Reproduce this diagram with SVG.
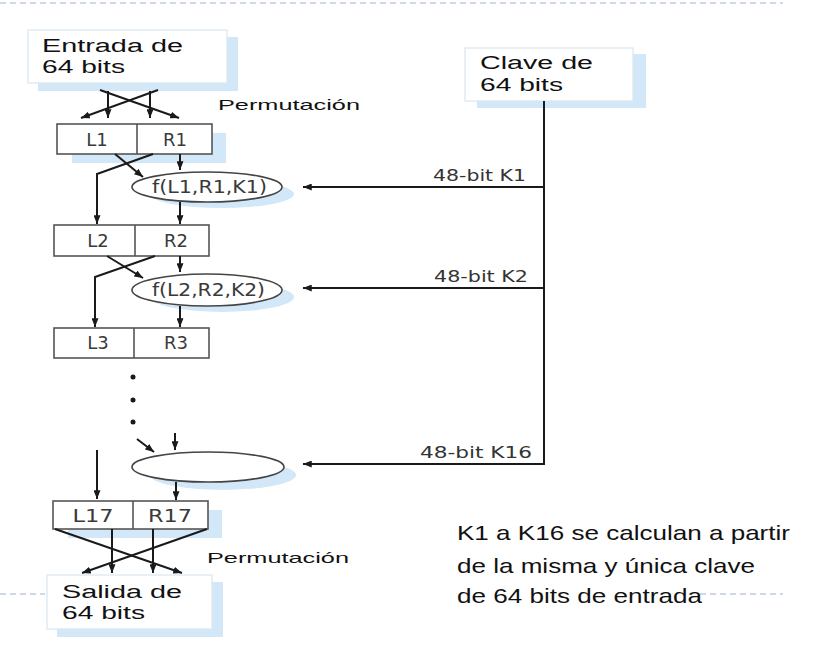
<svg xmlns="http://www.w3.org/2000/svg" width="816" height="648" viewBox="0 0 816 648">
<defs>
<marker id="ah" viewBox="0 0 10 8" refX="10" refY="4" markerWidth="9" markerHeight="7" markerUnits="userSpaceOnUse" orient="auto">
<path d="M0,0 L10,4 L0,8 z" fill="#1a1a1a"/>
</marker>
<style>
.bg{fill:#ffffff}
.sh{fill:#d2e8f8;stroke:none}
.io{fill:#ffffff;stroke:#dbe6ee;stroke-width:1.2}
.cell{fill:#ffffff;stroke:#555555;stroke-width:1.6}
.fn{fill:#ffffff;stroke:#444444;stroke-width:1.6}
.ln{fill:none;stroke:#1a1a1a;stroke-width:2}
.ar{fill:none;stroke:#1a1a1a;stroke-width:2;marker-end:url(#ah)}
.dash{fill:none;stroke:#9fb3cc;stroke-width:1;stroke-dasharray:6 4}
.big{font-family:"Liberation Sans",Arial,sans-serif;font-size:18px;fill:#111111}
.perm{font-family:"Liberation Sans",Arial,sans-serif;font-size:15px;fill:#111111}
.cl{font-family:"DejaVu Sans","Liberation Sans",sans-serif;font-size:18px;fill:#3a3a3a;text-anchor:middle}
.fl{font-family:"DejaVu Sans","Liberation Sans",sans-serif;font-size:17px;fill:#3a3a3a}
.kl{font-family:"DejaVu Sans","Liberation Sans",sans-serif;font-size:16px;fill:#333333}
.note{font-family:"Liberation Sans",Arial,sans-serif;font-size:21px;fill:#111111}
.dot{fill:#1a1a1a}
</style>
</defs>
<rect class="bg" x="0" y="0" width="816" height="648"/>
<line class="dash" x1="0" y1="3" x2="783" y2="3"/>
<line class="dash" x1="0" y1="594" x2="45" y2="594"/>
<line class="dash" x1="700" y1="594" x2="783" y2="594"/>

<g id="entrada">
<rect class="sh" x="38" y="37" width="200" height="54"/>
<rect class="io" x="28" y="30" width="199" height="53"/>
<text class="big" x="42" y="52" textLength="141" lengthAdjust="spacingAndGlyphs">Entrada de</text>
<text class="big" x="42" y="73" textLength="83" lengthAdjust="spacingAndGlyphs">64 bits</text>
</g>

<g id="perm-top">
<text class="perm" x="218" y="110" textLength="142" lengthAdjust="spacingAndGlyphs">Permutación</text>
</g>

<g id="clave">
<rect class="sh" x="477" y="54" width="169" height="54"/>
<rect class="io" x="465" y="48" width="168" height="53"/>
<text class="big" x="480" y="69" textLength="113" lengthAdjust="spacingAndGlyphs">Clave de</text>
<text class="big" x="480" y="91" textLength="83" lengthAdjust="spacingAndGlyphs">64 bits</text>
</g>

<g id="lr1">
<rect class="sh" x="72" y="133" width="154" height="30"/>
<rect class="cell" x="57" y="124" width="155" height="30"/>
<line class="cell" x1="137" y1="124" x2="137" y2="154"/>
<text class="cl" x="97" y="146">L1</text>
<text class="cl" x="175" y="146">R1</text>
</g>

<g id="f1">
<ellipse class="sh" cx="222" cy="194" rx="72" ry="14"/>
<ellipse class="fn" cx="207" cy="187" rx="75" ry="15"/>
<text class="fl" x="152" y="193" textLength="115" lengthAdjust="spacingAndGlyphs">f(L1,R1,K1)</text>
</g>

<g id="lr2">
<rect class="cell" x="54" y="225" width="155" height="31"/>
<line class="cell" x1="135" y1="225" x2="135" y2="256"/>
<text class="cl" x="98" y="247">L2</text>
<text class="cl" x="176" y="247">R2</text>
</g>

<g id="f2">
<ellipse class="sh" cx="222" cy="297" rx="72" ry="15"/>
<ellipse class="fn" cx="207" cy="290" rx="75" ry="16"/>
<text class="fl" x="152" y="296" textLength="113" lengthAdjust="spacingAndGlyphs">f(L2,R2,K2)</text>
</g>

<g id="lr3">
<rect class="cell" x="54" y="328" width="155" height="30"/>
<line class="cell" x1="134" y1="328" x2="134" y2="358"/>
<text class="cl" x="98" y="349">L3</text>
<text class="cl" x="176" y="349">R3</text>
</g>

<g id="dots">
<circle class="dot" cx="133" cy="377" r="2.5"/>
<circle class="dot" cx="133" cy="400" r="2.5"/>
<circle class="dot" cx="133" cy="422" r="2.5"/>
</g>

<g id="f16">
<ellipse class="sh" cx="223" cy="475" rx="73" ry="15"/>
<ellipse class="fn" cx="208" cy="467" rx="76" ry="15"/>
</g>

<g id="lr17">
<rect class="sh" x="68" y="510" width="154" height="28"/>
<rect class="cell" x="53" y="501" width="155" height="28"/>
<line class="cell" x1="133" y1="501" x2="133" y2="529"/>
<text class="cl" x="93" y="522" textLength="41" lengthAdjust="spacingAndGlyphs">L17</text>
<text class="cl" x="170" y="522" textLength="44" lengthAdjust="spacingAndGlyphs">R17</text>
</g>

<g id="perm-bottom">
<text class="perm" x="207" y="563" textLength="142" lengthAdjust="spacingAndGlyphs">Permutación</text>
</g>

<g id="salida">
<rect class="sh" x="57" y="582" width="166" height="55"/>
<rect class="io" x="47" y="575" width="165" height="54"/>
<text class="big" x="62" y="598" textLength="120" lengthAdjust="spacingAndGlyphs">Salida de</text>
<text class="big" x="62" y="619" textLength="83" lengthAdjust="spacingAndGlyphs">64 bits</text>
</g>

<g id="note">
<text class="note" x="457" y="540" textLength="333" lengthAdjust="spacingAndGlyphs">K1 a K16 se calculan a partir</text>
<text class="note" x="457" y="573" textLength="298" lengthAdjust="spacingAndGlyphs">de la misma y única clave</text>
<text class="note" x="457" y="603" textLength="245" lengthAdjust="spacingAndGlyphs">de 64 bits de entrada</text>
</g>

<g id="connectors">
<line class="ar" x1="108" y1="91" x2="108" y2="118"/>
<line class="ar" x1="150" y1="91" x2="150" y2="118"/>
<line class="ar" x1="100" y1="90" x2="179" y2="118"/>
<line class="ar" x1="158" y1="90" x2="81" y2="118"/>

<line class="ar" x1="180" y1="154" x2="180" y2="170"/>
<line class="ar" x1="115" y1="154" x2="143" y2="177"/>
<polyline class="ar" points="153,154 97,174 97,224"/>
<line class="ar" x1="180" y1="202" x2="180" y2="224"/>

<line class="ar" x1="180" y1="256" x2="180" y2="272"/>
<line class="ar" x1="107" y1="256" x2="143" y2="278"/>
<polyline class="ar" points="155,256 95,277 95,327"/>
<line class="ar" x1="180" y1="306" x2="180" y2="327"/>

<line class="ar" x1="137" y1="439" x2="154" y2="452"/>
<line class="ar" x1="175" y1="433" x2="175" y2="450"/>
<line class="ar" x1="97" y1="450" x2="97" y2="499"/>
<line class="ar" x1="176" y1="482" x2="176" y2="500"/>

<line class="ar" x1="112" y1="529" x2="112" y2="573"/>
<line class="ar" x1="153" y1="529" x2="153" y2="573"/>
<line class="ar" x1="55" y1="529" x2="182" y2="573"/>
<line class="ar" x1="207" y1="529" x2="82" y2="573"/>

<line class="ln" x1="544" y1="101" x2="544" y2="465"/>
<line class="ar" x1="544" y1="187" x2="303" y2="187"/>
<line class="ar" x1="544" y1="288" x2="303" y2="288"/>
<line class="ar" x1="544" y1="464" x2="303" y2="464"/>
<text class="kl" x="433" y="181" textLength="93" lengthAdjust="spacingAndGlyphs">48-bit K1</text>
<text class="kl" x="434" y="282" textLength="94" lengthAdjust="spacingAndGlyphs">48-bit K2</text>
<text class="kl" x="420" y="458" textLength="112" lengthAdjust="spacingAndGlyphs">48-bit K16</text>
</g>
</svg>
